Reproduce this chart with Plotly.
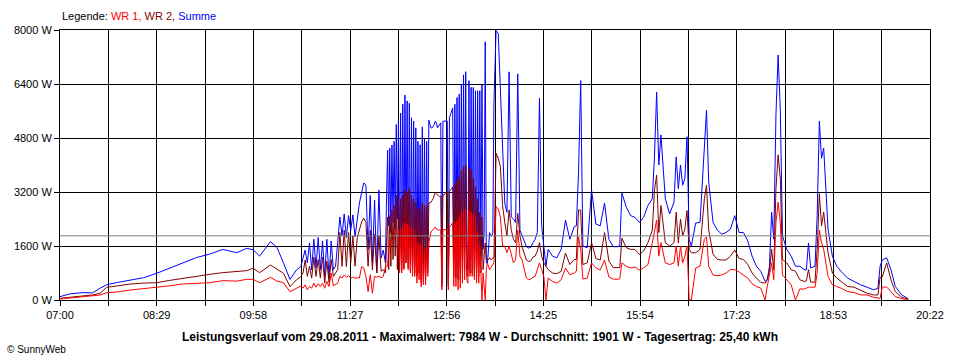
import plotly.graph_objects as go

# time of each sample, minutes after 07:00
minutes_after_7 = [
    0, 9, 21, 30, 37, 43, 53, 65, 77, 89, 101, 113, 126, 138, 150, 163, 172, 178, 184, 194, 200, 206, 212, 218, 222,
    224, 226, 228, 230, 232, 234, 236, 238, 240, 242,
    244, 246, 248, 250, 252, 254, 256, 258, 260, 262,
    264, 266, 268, 270, 272, 274, 276, 278, 280, 282,
    284, 286, 288, 290, 292, 294, 296, 298,
    300, 301, 302, 303, 304, 305, 306, 307, 308, 309,
    310, 311, 312, 313, 314, 315, 316, 317, 318, 319,
    320, 321, 322, 323, 324, 325, 326, 327, 328, 329,
    330, 331, 332, 333, 334, 335, 336, 337, 338, 339,
    340, 341, 342, 343, 344, 345, 346, 347, 348, 349,
    350, 351, 352, 353, 354, 355, 356, 357, 358, 359,
    360, 361, 362, 363, 364, 365, 366, 367, 368, 369,
    370, 371, 372, 373, 374, 375, 376, 377, 378, 379,
    380, 381, 382, 383, 384, 385, 386, 387, 388, 389,
    390, 391, 392, 393, 394, 395, 396, 397, 398, 399,
    400, 402,
    404, 406, 408, 410, 412, 414, 416, 418, 420, 422,
    424, 426, 428, 430, 432, 434, 436, 438, 440, 442,
    444, 446, 448, 450, 454, 458, 462, 466, 470, 474,
    476, 478, 480, 482, 486, 490, 494, 498, 502, 506, 510, 514,
    516, 518, 522, 526, 530, 534, 538, 542, 546, 548, 550, 552,
    554, 558, 562, 566, 568, 570, 572, 574, 576, 578, 580, 582,
    586, 590, 594, 596, 598, 602, 606, 610, 614, 618, 622, 626,
    630, 634, 638, 642, 646, 650, 652, 654, 656, 658, 660, 662,
    664, 666, 670, 674, 678, 682, 686, 688, 690, 692, 696, 698,
    700, 702, 704, 708, 712, 716, 720, 726, 732, 738, 744, 750,
    754, 756, 758, 762, 766, 770, 776, 782,
]

# Summe (blue), W
summe = [
    100, 180, 220, 210, 350, 450, 520, 590, 660, 790, 940, 1090, 1260, 1360, 1500, 1400, 1530, 1490, 1300, 1730, 1560, 1100, 610, 890, 990,
    1240, 1480, 1100, 1690, 890, 1800, 950, 1850, 900, 1750,
    700, 1800, 680, 1750, 900, 1000, 1700, 2460, 1900, 2550,
    1850, 2500, 2070, 2520, 1870, 2470, 2870, 3170, 3470, 3400,
    1500, 3100, 1100, 2960, 800, 3260, 1240, 1480,
    1100, 3000, 4440, 2200, 4500, 2000, 4590, 2300, 4700, 2100,
    5200, 2400, 5300, 1200, 5540, 1100, 5800, 1400, 6070, 1600,
    5900, 1200, 5830, 1100, 5400, 900, 5300, 1000, 5100, 800,
    4700, 1000, 4600, 600, 5130, 700, 4800, 800, 4700, 1100,
    5330, 5200, 5100, 5100, 5150, 5200, 5300, 5250, 5100, 5150,
    5200, 5250, 400, 5300, 5300, 5300, 5300, 5300, 400, 5400,
    5500, 5600, 5690, 1200, 5800, 1100, 6000, 1000, 6100, 1000,
    6400, 1300, 6670, 1500, 6765, 1200, 900, 6500, 1000, 6300,
    1200, 6300, 900, 6200, 1000, 6200, 1100, 6200, 1300, 6370,
    1500, 2000, 7650, 1100, 1100, 1500, 2000, 1900, 1900, 2000,
    5830, 7984,
    7900, 6220, 4540, 2870, 2600, 6760, 2460, 2400, 2300, 6700,
    2070, 1900, 1700, 1580, 1540, 1560, 1700, 1800, 2000, 5985,
    2200, 1600, 1000, 1500, 1300, 1250, 1500, 2370, 1800, 2170,
    2200, 3760, 6500, 1600, 1550, 3260, 2250, 2200, 2870, 1800, 1580, 1580,
    1600, 3170, 2750, 2500, 2450, 2300, 2450, 2800, 3000, 4240, 6160, 4000,
    4890, 3000, 2550, 2900, 4240, 3300, 4000, 3400, 3600, 4840, 1800, 1600,
    2280, 2300, 4700, 5630, 3500, 2300, 2070, 1950, 2000, 2100, 2500, 2000,
    2000, 1750, 1300, 1000, 850, 550, 600, 1000, 2600, 1800, 5500, 7260,
    5630, 1900, 1500, 1300, 1000, 1000, 900, 889, 1690, 950, 1000, 2500,
    5300, 4200, 4500, 2100, 1300, 1000, 850, 650, 550, 450, 380, 300,
    350, 1000, 1185, 1250, 900, 400, 150, 40,
]

# WR 2 (dark red), W
wr2 = [
    50, 80, 118, 150, 200, 375, 420, 474, 500, 513, 580, 642, 700, 760, 810, 840, 869, 938, 810, 1037, 900, 790, 395, 600, 691,
    800, 1185, 700, 1000, 650, 1270, 700, 1200, 650, 1270,
    500, 1150, 520, 1200, 700, 800, 900, 2000, 1000, 2074,
    987, 2000, 1100, 1900, 1000, 1837, 2074, 2311, 2430, 2300,
    1000, 2070, 890, 1950, 800, 1900, 850, 900,
    800, 1800, 2460, 900, 2500, 1000, 2667, 1200, 2800, 1300,
    3100, 900, 3000, 850, 3000, 889, 3100, 950, 3260, 1100,
    3200, 950, 3300, 900, 3100, 800, 3000, 800, 2900, 700,
    2700, 800, 2750, 500, 2870, 550, 2800, 600, 2800, 800,
    2870, 2880, 2900, 2950, 3000, 3100, 3200, 3150, 3100, 3080,
    3060, 3080, 500, 3110, 3110, 3150, 3200, 3200, 500, 3220,
    3250, 3300, 3350, 700, 3450, 650, 3550, 600, 3650, 600,
    3850, 800, 3950, 900, 4000, 800, 700, 3900, 800, 3850,
    800, 3600, 700, 3350, 600, 3000, 700, 2600, 800, 2460,
    900, 1200, 1690, 1185, 1185, 1200, 1250, 1200, 1200, 1230,
    1270, 4350,
    4200, 3950, 2800, 2300, 1900, 2670, 2070, 1800, 1700, 2568,
    1900, 1570, 1400, 1185, 1140, 1160, 1270, 1300, 1450, 1700,
    1300, 1100, 1000, 900, 800, 780, 850, 1390, 1050, 1200,
    1200, 2667, 2667, 1050, 1100, 1700, 1230, 1185, 2000, 1150, 960, 950,
    960, 1830, 1550, 1500, 1500, 1350, 1450, 1700, 2070, 3260, 3700, 2000,
    2800, 1700, 1600, 1700, 2600, 1700, 2400, 1900, 2100, 2650, 1500, 1400,
    1400, 1500, 3000, 3400, 2070, 1360, 1200, 1185, 1185, 1300, 1480, 1230,
    1200, 1050, 800, 650, 520, 500, 600, 850, 1500, 900, 3300, 4300,
    3600, 1200, 1100, 900, 850, 600, 550, 560, 900, 530, 530, 1500,
    3150, 2200, 2600, 1400, 800, 650, 550, 400, 380, 300, 200, 150,
    150, 680, 680, 1100, 600, 250, 80, 20,
]

# WR 1 (red), W
wr1 = [
    30, 60, 99, 120, 148, 217, 240, 296, 330, 375, 420, 474, 500, 513, 573, 560, 612, 612, 513, 671, 560, 513, 247, 350, 415,
    350, 450, 300, 400, 350, 500, 380, 480, 400, 500,
    350, 550, 400, 800, 420, 450, 500, 700, 650, 740,
    680, 720, 650, 680, 640, 660, 650, 987, 950, 700,
    250, 750, 200, 700, 680, 700, 660, 700,
    987, 990, 1000, 1600, 1700, 1750, 1750, 1780, 1800, 1900,
    2074, 2074, 2080, 800, 2100, 800, 2200, 900, 2300, 1100,
    2250, 900, 2200, 800, 2150, 700, 2100, 700, 1900, 500,
    1700, 600, 1650, 385, 1600, 450, 1550, 450, 1500, 700,
    1700, 1850, 2015, 2050, 2100, 2130, 2163, 2100, 2074, 2074,
    2074, 2074, 300, 2080, 2080, 2090, 2100, 2100, 300, 2150,
    2200, 2240, 2281, 400, 2300, 400, 2350, 300, 2450, 350,
    2600, 500, 2667, 600, 2700, 600, 500, 2650, 700, 2600,
    700, 2550, 600, 2460, 500, 2000, 500, 1600, 400, 0,
    800, 500, 0, 900, 1100, 1000, 900, 950, 1000, 1050,
    1100, 2770,
    2700, 2460, 1600, 1600, 1400, 1600, 1300, 1100, 1200, 2070,
    1300, 1185, 900, 650, 600, 620, 680, 700, 900, 1100,
    900, 700, 0, 650, 550, 500, 600, 948, 750, 800,
    850, 1870, 1500, 620, 650, 1100, 950, 889, 1185, 680, 620, 610,
    630, 1100, 1000, 950, 980, 889, 950, 1050, 1690, 2100, 2370, 1300,
    1700, 1100, 1050, 1100, 1600, 1000, 1600, 1100, 1300, 1600, 0, 0,
    950, 1000, 1800, 1870, 1000, 740, 720, 740, 800, 900, 900, 830,
    750, 650, 480, 400, 350, 0, 400, 700, 1100, 600, 2300, 2900,
    2300, 740, 600, 450, 0, 330, 320, 350, 380, 380, 380, 800,
    2070, 1700, 1500, 700, 450, 400, 350, 250, 220, 150, 150, 80,
    50, 50, 385, 385, 250, 100, 40, 10,
]

average_w = 1901
x_tick_labels = ["07:00", "08:29", "09:58", "11:27", "12:56", "14:25", "15:54", "17:23", "18:53", "20:22"]
y_tick_values = [0, 1600, 3200, 4800, 6400, 8000]
span_minutes = 802  # 07:00 .. 20:22

FONT = "Liberation Sans"

fig = go.Figure()
fig.add_trace(go.Scatter(x=minutes_after_7, y=summe, mode="lines", name="Summe",
                         line=dict(color="#0000FF", width=1)))
fig.add_trace(go.Scatter(x=minutes_after_7, y=wr2, mode="lines", name="WR 2",
                         line=dict(color="#800000", width=1)))
fig.add_trace(go.Scatter(x=minutes_after_7, y=wr1, mode="lines", name="WR 1",
                         line=dict(color="#FF0000", width=1)))

fig.add_shape(type="line", xref="paper", yref="y", x0=0, x1=1, y0=average_w, y1=average_w,
              line=dict(color="#808080", width=1), layer="above")

n_grid = 2 * (len(x_tick_labels) - 1)
grid_vals = [k * span_minutes / n_grid for k in range(n_grid + 1)]
grid_text = [x_tick_labels[k // 2] if k % 2 == 0 else "" for k in range(n_grid + 1)]

fig.update_xaxes(range=[0, span_minutes], tickvals=grid_vals, ticktext=grid_text,
                 showgrid=True, gridcolor="black", gridwidth=1, zeroline=False,
                 ticks="outside", ticklen=5, tickcolor="black", tickwidth=1,
                 showline=True, linecolor="black", linewidth=1, mirror=True,
                 tickfont=dict(family=FONT, size=11, color="black"))
fig.update_yaxes(range=[0, 8000], tickvals=y_tick_values, ticktext=[f"{v} W" for v in y_tick_values],
                 showgrid=True, gridcolor="black", gridwidth=1, zeroline=False,
                 ticks="outside", ticklen=5, tickcolor="black", tickwidth=1,
                 showline=True, linecolor="black", linewidth=1, mirror=True,
                 tickfont=dict(family=FONT, size=11, color="black"))

legend_text = ("Legende: <span style='color:#FF0000'>WR 1,</span> "
               "<span style='color:#800000'>WR 2,</span> "
               "<span style='color:#0000FF'>Summe</span>")
fig.add_annotation(text=legend_text, xref="paper", yref="paper", x=0, y=1 + 13.5 / 270,
                   xanchor="left", yanchor="middle", showarrow=False,
                   font=dict(family=FONT, size=11, color="black"))
fig.add_annotation(text="<b>Leistungsverlauf vom 29.08.2011 - Maximalwert: 7984 W - Durchschnitt: 1901 W - Tagesertrag: 25,40 kWh</b>",
                   xref="paper", yref="paper", x=(480 - 60) / 870, y=-37 / 270,
                   xanchor="center", yanchor="middle", showarrow=False,
                   font=dict(family=FONT, size=12, color="black"))
fig.add_annotation(text="© SunnyWeb", xref="paper", yref="paper", x=(5 - 60) / 870, y=-49 / 270,
                   xanchor="left", yanchor="middle", showarrow=False,
                   font=dict(family=FONT, size=10, color="black"))

fig.update_layout(width=960, height=360, autosize=False,
                  margin=dict(l=60, r=30, t=30, b=60),
                  paper_bgcolor="white", plot_bgcolor="white",
                  showlegend=False)

fig.write_html("out.html", config={"displayModeBar": False},
               post_script="document.body.style.margin='0';document.body.style.overflow='hidden';")
